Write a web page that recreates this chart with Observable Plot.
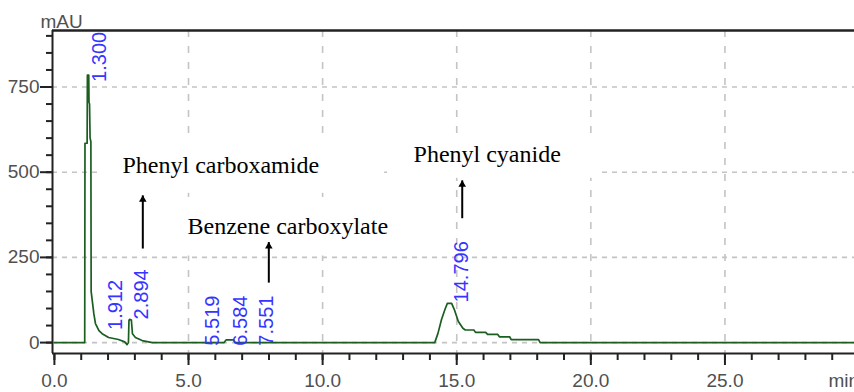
<!DOCTYPE html>
<html>
<head>
<meta charset="utf-8">
<script src="https://cdn.jsdelivr.net/npm/d3@7"></script>
<script src="https://cdn.jsdelivr.net/npm/@observablehq/plot@0.6"></script>
<style>
  html, body { margin: 0; padding: 0; background: #fff; }
  #chart svg { display: block; background: #fff; }
</style>
</head>
<body>
<div id="chart"></div>
<script>
// ---- data ----
const traceTime = [0, 1.13, 1.14, 1.22, 1.23, 1.28, 1.29, 1.31, 1.33, 1.36, 1.37, 1.41, 1.47, 1.53, 1.66, 1.78, 2.02, 2.39, 2.62, 2.71, 2.76, 2.78, 2.80, 2.87, 2.91, 3.02, 3.27, 3.65, 6.33, 6.40, 6.68, 6.73, 14.18, 14.30, 14.43, 14.56, 14.65, 14.81, 14.91, 15.06, 15.23, 15.32, 15.64, 15.70, 16.08, 16.15, 16.53, 16.59, 16.97, 17.03, 18.05, 18.11, 30];
const traceValue = [0, 0, 585, 585, 785, 785, 705, 700, 600, 590, 150, 124, 85, 56, 35, 26, 15, 9, 2, -6, 0, 65, 68, 66, 26, 15, 6, 0, 0, 8, 8, 0, 0, 27, 67, 97, 115, 115, 97, 62, 42, 37, 37, 30, 30, 24, 24, 17, 17, 9, 9, 0, 0];

const peakTimes = [1.300, 1.912, 2.894, 5.519, 6.584, 7.551, 14.796];
const peakLabelHeights = [765, 37, 68, -9, -9, -9, 118];

const compoundNames = ["Phenyl carboxamide", "Benzene carboxylate", "Phenyl cyanide"];
const compoundTextX = [2.539, 4.963, 13.39];
const compoundTextY = [497, 318, 529];
const arrowX = [3.296, 7.994, 15.205];
const arrowBase = [276, 176, 365];
const arrowTip = [432, 295, 476];

// white backgrounds behind the pasted annotation texts (they hide gridlines)
const boxX1 = [1.607, 4.33, 12.57];
const boxX2 = [12.31, 12.72, 20.25];
const boxY1 = [438, 254, 482];
const boxY2 = [600, 426, 603];

const xDomain = [-0.071, 29.83];
const yDomain = [-32, 915.8];
const xMajor = [0, 5, 10, 15, 20, 25];
const xMinor = d3.range(0, 30, 1);
const xGrid = [5, 10, 15, 20, 25];
const yMajor = [0, 250, 500, 750];
const yMinor = d3.range(0, 901, 50);
const yGrid = [0, 250, 500, 750];

// ---- tables ----
const trace = traceTime.map((t, i) => ({t, v: traceValue[i]}));
const peaks = peakTimes.map((t, i) => ({t, h: peakLabelHeights[i], label: t.toFixed(3)}));
const notes = compoundNames.map((name, i) => ({name, x: compoundTextX[i], y: compoundTextY[i]}));
const arrows = arrowX.map((x, i) => ({x, y1: arrowBase[i], y2: arrowTip[i]}));
const boxes = boxX1.map((x1, i) => ({x1, x2: boxX2[i], y1: boxY1[i], y2: boxY2[i]}));

const sans = "'Liberation Sans', Arial, sans-serif";
const serif = "'Liberation Serif', 'Times New Roman', serif";
const axisGray = "#505050";
const frameColor = "#222";

const chart = Plot.plot({
  width: 854,
  height: 392,
  marginLeft: 52,
  marginRight: 0,
  marginTop: 30,
  marginBottom: 39,
  style: {background: "#fff", fontFamily: sans},
  x: {domain: xDomain, label: null},
  y: {domain: yDomain, label: null},
  marks: [
    Plot.gridX(xGrid, {stroke: "#c4c4c4", strokeOpacity: 1, strokeWidth: 1.6, strokeDasharray: "7,9"}),
    Plot.gridY(yGrid, {stroke: "#c4c4c4", strokeOpacity: 1, strokeWidth: 1.6, strokeDasharray: "5,5"}),
    Plot.rect(boxes, {x1: "x1", x2: "x2", y1: "y1", y2: "y2", fill: "#fff"}),
    Plot.ruleX([xDomain[0]], {stroke: frameColor, strokeWidth: 2}),
    Plot.ruleY([yDomain[0]], {stroke: frameColor, strokeWidth: 2}),
    Plot.ruleY([yDomain[1]], {stroke: frameColor, strokeWidth: 2.5}),
    Plot.axisX(xMinor, {tickSize: 7, tickFormat: () => "", stroke: frameColor, strokeWidth: 2}),
    Plot.axisX(xMajor, {tickSize: 12, tickPadding: 8, tickFormat: d => d.toFixed(1), stroke: frameColor, strokeWidth: 2, fill: axisGray, fontSize: 19, fontFamily: sans}),
    Plot.axisY(yMinor, {tickSize: 6, tickFormat: () => "", stroke: frameColor, strokeWidth: 2}),
    Plot.axisY(yMajor, {tickSize: 12, tickPadding: 1, tickFormat: d => String(d), stroke: frameColor, strokeWidth: 2, fill: axisGray, fontSize: 19, fontFamily: sans}),
    Plot.text(["mAU"], {frameAnchor: "top-left", textAnchor: "start", lineAnchor: "bottom", dx: -12, dy: -3, fontSize: 19, fontFamily: sans, fill: axisGray}),
    Plot.text(["min"], {frameAnchor: "bottom-right", textAnchor: "start", lineAnchor: "top", dx: -26, dy: 20, fontSize: 19, fontFamily: sans, fill: axisGray}),
    Plot.line(trace, {x: "t", y: "v", stroke: "#1b5e20", strokeWidth: 1.7}),
    Plot.text(peaks, {x: "t", y: "h", text: "label", rotate: -90, textAnchor: "start", lineAnchor: "middle", dx: 10, fill: "#3535ff", fontSize: 20, fontFamily: sans}),
    Plot.link(arrows, {x1: "x", x2: "x", y1: "y1", y2: "y2", stroke: "#000", strokeWidth: 2}),
    Plot.dot(arrows, {x: "x", y: "y2", symbol: "triangle", r: 2.8, fill: "#000", stroke: null, dy: 4.3}),
    Plot.text(notes, {x: "x", y: "y", text: "name", textAnchor: "start", lineAnchor: "bottom", fontSize: 24, fontFamily: serif, fill: "#000"})
  ]
});
document.getElementById("chart").appendChild(chart);
</script>
</body>
</html>
